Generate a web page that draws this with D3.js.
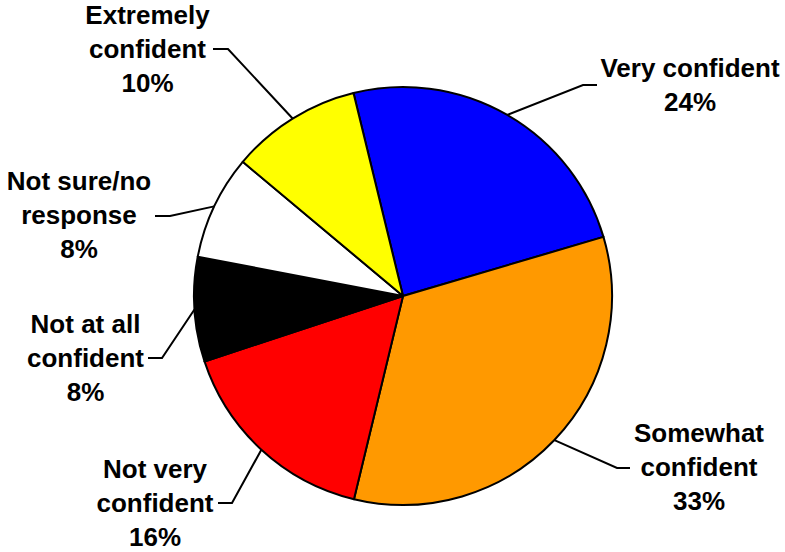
<!DOCTYPE html>
<html>
<head>
<meta charset="utf-8">
<script src="https://cdn.jsdelivr.net/npm/d3@7/dist/d3.min.js"></script>
<style>
  html, body { margin: 0; padding: 0; background: #fff; }
  svg { display: block; }
  text { font-family: "Liberation Sans", Arial, sans-serif; font-weight: bold; font-size: 26px; fill: #000; }
</style>
</head>
<body>
<svg id="chart" width="785" height="552"></svg>
<script>
// Survey responses: how confident respondents are
const categories = ["Very confident", "Somewhat confident", "Not very confident", "Not at all confident", "Not sure/no response", "Extremely confident"];
const values = [24, 33, 16, 8, 8, 10];
const colors = ["#0000FF", "#FF9900", "#FF0000", "#000000", "#FFFFFF", "#FFFF00"];

// Label text broken into lines
const labelLines = [
  ["Very confident"],
  ["Somewhat", "confident"],
  ["Not very", "confident"],
  ["Not at all", "confident"],
  ["Not sure/no", "response"],
  ["Extremely", "confident"]
];

// Label placement: text centre x, first baseline y, leader elbow (x1 near text, x2 bend, y)
const labelLayout = [
  { cx: 690, y: 77, ex1: 597, ex2: 583, ey: 85 },
  { cx: 699, y: 442, ex1: 630, ex2: 617, ey: 468 },
  { cx: 155, y: 478, ex1: 218, ex2: 232, ey: 503 },
  { cx: 85.5, y: 333, ex1: 148, ex2: 162, ey: 358 },
  { cx: 79, y: 190, ex1: 155, ex2: 170, ey: 216 },
  { cx: 147.5, y: 24, ex1: 213, ex2: 228, ey: 49 }
];

const width = 785, height = 552;
const cx = 403, cy = 296, radius = 209;
const lineHeight = 34;
const startDeg = -13.7;

const svg = d3.select("#chart");
const data = categories.map((c, i) => ({ name: c, value: values[i], color: colors[i], lines: labelLines[i], layout: labelLayout[i] }));

const pie = d3.pie()
  .value(d => d.value)
  .sort(null)
  .startAngle(startDeg * Math.PI / 180)
  .endAngle(startDeg * Math.PI / 180 + 2 * Math.PI);

const arcs = pie(data);
const arc = d3.arc().innerRadius(0).outerRadius(radius);

const g = svg.append("g").attr("transform", `translate(${cx},${cy})`);

g.selectAll("path.slice")
  .data(arcs)
  .join("path")
  .attr("class", "slice")
  .attr("d", arc)
  .attr("fill", d => d.data.color)
  .attr("stroke", "#000")
  .attr("stroke-width", 2)
  .attr("stroke-linejoin", "round");

// Leader lines from slice edge (at mid-angle) to label
const leaders = svg.append("g");
arcs.forEach(a => {
  const mid = (a.startAngle + a.endAngle) / 2;
  const px = cx + radius * Math.sin(mid);
  const py = cy - radius * Math.cos(mid);
  const L = a.data.layout;
  leaders.append("polyline")
    .attr("points", `${L.ex1},${L.ey} ${L.ex2},${L.ey} ${px},${py}`)
    .attr("fill", "none")
    .attr("stroke", "#000")
    .attr("stroke-width", 2);
});

// Labels
const labels = svg.append("g");
arcs.forEach(a => {
  const L = a.data.layout;
  const t = labels.append("text").attr("text-anchor", "middle");
  const lines = a.data.lines.concat([a.data.value + "%"]);
  lines.forEach((s, i) => {
    t.append("tspan").attr("x", L.cx).attr("y", L.y + i * lineHeight).text(s);
  });
});
</script>
</body>
</html>
